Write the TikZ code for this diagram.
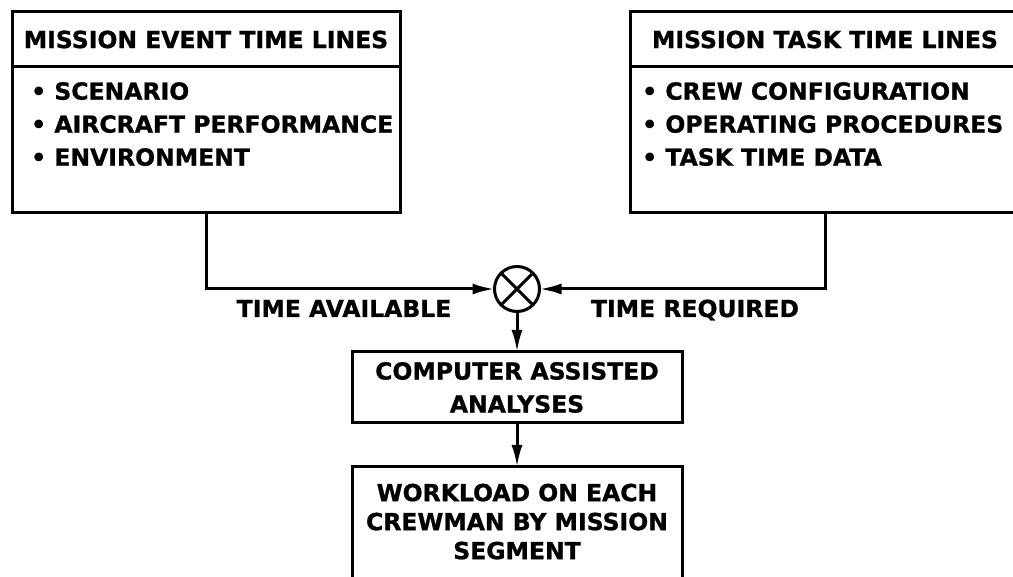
\documentclass[tikz,border=0pt]{standalone}
\usepackage{fontspec}
\newfontfamily\diafont{DejaVu Sans Bold}[FakeBold=1]
\usetikzlibrary{arrows.meta}

\tikzset{
  txt/.style={font=\diafont\fontsize{23.5}{33}\selectfont},
  frame/.style={draw, line width=3pt, outer sep=0pt, inner sep=0pt},
  headbox/.style={frame, txt, minimum width=#1, minimum height=55pt},
  bodybox/.style={frame, minimum width=#1, minimum height=146pt},
  listtext/.style={txt, align=left, anchor=north west, inner sep=0pt},
  flow/.style={line width=3pt, -{Latex[length=22pt,width=11pt]}},
  mixer/.style={circle, draw, line width=3pt, minimum size=45pt, inner sep=0pt, outer sep=0pt}
}

\begin{document}
\begin{tikzpicture}[x=1pt, y=-1pt]
\useasboundingbox (0,0) rectangle (1013,577);
\clip (0,0) rectangle (1013,577);

% event time lines (left)
\node[headbox=388pt] (evhead) at (206,39.5) {MISSION EVENT TIME LINES};
\node[bodybox=388pt, anchor=north] (evbody) at (evhead.south) {};
\node[listtext] (evlist) at (31,82) {• SCENARIO\\• AIRCRAFT PERFORMANCE\\• ENVIRONMENT};

% task time lines (right, runs off the page)
\node[headbox=390pt] (tkhead) at (825,39.5) {MISSION TASK TIME LINES};
\node[bodybox=390pt, anchor=north] (tkbody) at (tkhead.south) {};
\node[listtext] (tklist) at (642,82) {• CREW CONFIGURATION\\• OPERATING PROCEDURES\\• TASK TIME DATA};

% comparison
\node[mixer] (mix) at (517,289) {};
\draw[line width=3pt] (mix.north west) -- (mix.south east) (mix.north east) -- (mix.south west);

\draw[flow] (evbody.south) |- (mix.west);
\draw[flow] (tkbody.south) |- (mix.east);

\node[txt, anchor=base, inner sep=0pt] (avail) at (344,317) {TIME AVAILABLE};
\node[txt, anchor=base, inner sep=0pt] (requ) at (695,317) {TIME REQUIRED};

% analyses and result
\node[frame, txt, align=center, minimum width=330pt, minimum height=71pt] (cabox) at (517,387.5) {COMPUTER ASSISTED\\ANALYSES};
\draw[flow] (mix.south) -- (cabox.north);

\node[frame, minimum width=330pt, minimum height=160pt, anchor=north] (wlbox) at (517,467) {};
\node[txt, font=\diafont\fontsize{23.5}{29}\selectfont, align=center, anchor=north, inner sep=0pt] (wltext) at (517,483.5) {WORKLOAD ON EACH\\CREWMAN BY MISSION\\SEGMENT};
\draw[flow] (cabox.south) -- (wlbox.north);

\end{tikzpicture}
\end{document}
